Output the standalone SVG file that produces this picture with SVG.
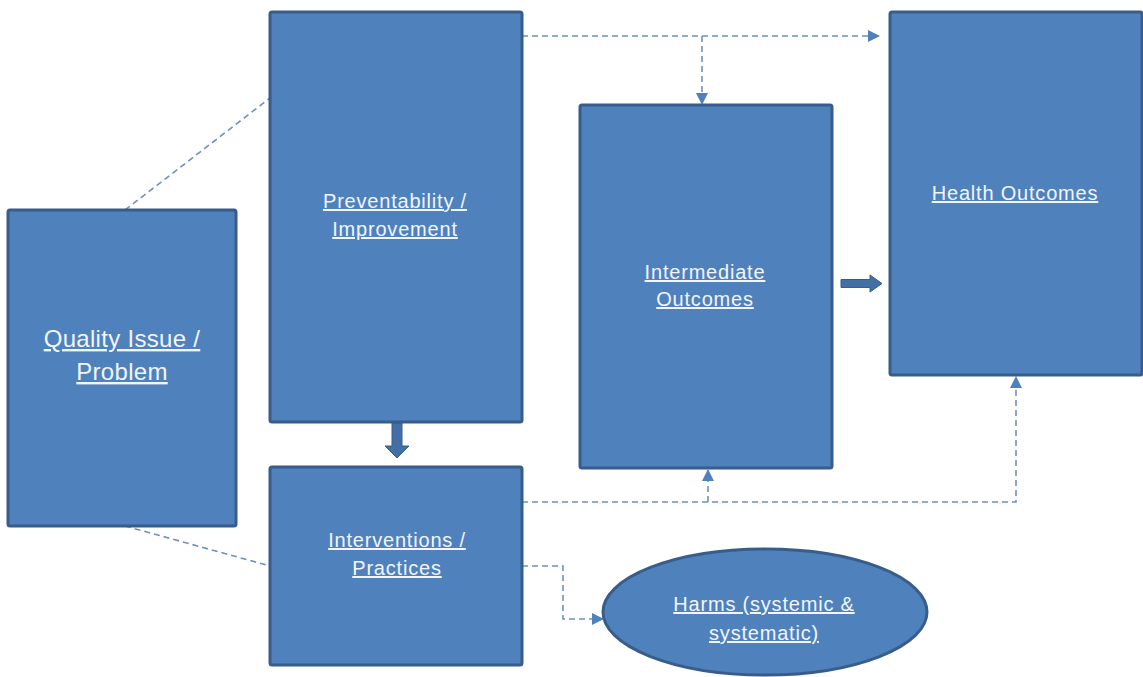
<svg xmlns="http://www.w3.org/2000/svg" width="1143" height="677" viewBox="0 0 1143 677">
<style>
.box{fill:#4F81BD;stroke:#385D8A;stroke-width:3}
.lbl{font-family:"Liberation Sans",Arial,sans-serif;font-size:20px;letter-spacing:0.8px;fill:#F2F5FB;text-anchor:middle;text-decoration:underline}
.big{font-size:24px;letter-spacing:0.3px}
.dash{fill:none;stroke:#6F8FBF;stroke-width:1.6;stroke-dasharray:6 4}
.thick{fill:#416FA6;stroke:#385D8A;stroke-width:1}
</style>
<defs>
<marker id="ah" markerUnits="userSpaceOnUse" markerWidth="12" markerHeight="12" viewBox="0 0 12 12" refX="11" refY="6" orient="auto">
<path d="M0,0 L12,6 L0,12 Z" fill="#4F81BD"/>
</marker>
</defs>
<rect width="1143" height="677" fill="#FFFFFF"/>
<g id="connectors">
<path class="dash" d="M125,210 L270,98"/>
<path class="dash" d="M125,526 L270,566"/>
<path class="dash" d="M522,36 H879" marker-end="url(#ah)"/>
<path class="dash" d="M702,36 V104" marker-end="url(#ah)"/>
<path class="dash" d="M522,502 H1016 V377" marker-end="url(#ah)"/>
<path class="dash" d="M708,502 V470" marker-end="url(#ah)"/>
<path class="dash" d="M522,566 H563 V619 H603" marker-end="url(#ah)"/>
<polygon class="thick" points="392,423 402,423 402,446 409,446 397,458 385,446 392,446"/>
<polygon class="thick" points="841,279.5 870,279.5 870,275 882,283.5 870,292 870,287.5 841,287.5"/>
</g>
<g id="quality">
<rect class="box" x="8" y="210" width="228" height="316" rx="2"/>
<text class="lbl big" x="122" y="347">Quality Issue /</text>
<text class="lbl big" x="122" y="380">Problem</text>
</g>
<g id="preventability">
<rect class="box" x="270" y="12" width="252" height="410" rx="2"/>
<text class="lbl" x="395" y="208">Preventability /</text>
<text class="lbl" x="395" y="236">Improvement</text>
</g>
<g id="interventions">
<rect class="box" x="270" y="467" width="252" height="198" rx="2"/>
<text class="lbl" x="397" y="547">Interventions /</text>
<text class="lbl" x="397" y="575">Practices</text>
</g>
<g id="intermediate">
<rect class="box" x="580" y="105" width="252" height="363" rx="2"/>
<text class="lbl" x="705" y="279">Intermediate</text>
<text class="lbl" x="705" y="306">Outcomes</text>
</g>
<g id="health">
<rect class="box" x="890" y="12" width="252" height="363" rx="2"/>
<text class="lbl" x="1015" y="200">Health Outcomes</text>
</g>
<g id="harms">
<ellipse class="box" cx="765" cy="612" rx="162" ry="63"/>
<text class="lbl" x="764" y="611">Harms (systemic &amp;</text>
<text class="lbl" x="764" y="640">systematic)</text>
</g>
</svg>
